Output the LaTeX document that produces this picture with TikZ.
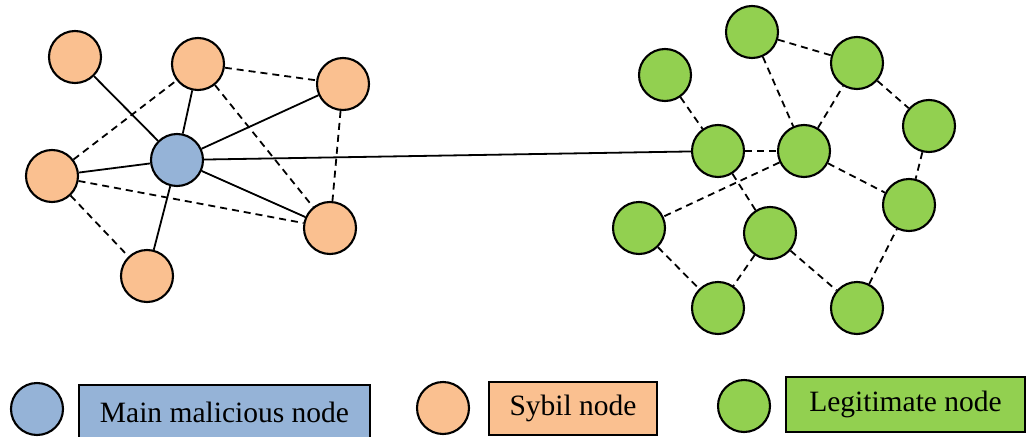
\documentclass[tikz,border=0pt]{standalone}
\usepackage{fontspec}
\setmainfont{Liberation Serif}
\definecolor{malblue}{HTML}{95B3D7}
\definecolor{sybilorange}{HTML}{FAC090}
\definecolor{legitgreen}{HTML}{92D050}
\begin{document}
\begin{tikzpicture}[x=1pt,y=-1pt,
  peer/.style={circle,draw=black,line width=2.1pt,minimum size=52pt,inner sep=0pt},
  mainnode/.style={peer,fill=malblue},
  sybil/.style={peer,fill=sybilorange},
  legit/.style={peer,fill=legitgreen},
  tie/.style={line width=1.8pt},
  weak/.style={line width=1.8pt,dash pattern=on 7pt off 5pt},
  keybox/.style={draw=black,line width=2pt,inner sep=0pt,font=\fontsize{29.5}{34}\selectfont}]
\useasboundingbox (0,0) rectangle (1027,436);
\clip (0,0) rectangle (1027,436);

% attacker cluster
\node[mainnode] (m)  at (177,160) {};
\node[sybil]    (s1) at (75,57)   {};
\node[sybil]    (s2) at (198,64)  {};
\node[sybil]    (s3) at (343,84)  {};
\node[sybil]    (s4) at (52,176)  {};
\node[sybil]    (s5) at (330,228) {};
\node[sybil]    (s6) at (147,276) {};

% honest cluster
\node[legit] (g1)  at (752,32)  {};
\node[legit] (g2)  at (665,75)  {};
\node[legit] (g3)  at (857,63)  {};
\node[legit] (g4)  at (929,126) {};
\node[legit] (g5)  at (718,151) {};
\node[legit] (g6)  at (804,151) {};
\node[legit] (g7)  at (909,205) {};
\node[legit] (g8)  at (639,228) {};
\node[legit] (g9)  at (770,233) {};
\node[legit] (g10) at (718,308) {};
\node[legit] (g11) at (857,308) {};

% links of the malicious node
\foreach \t in {s1,s2,s3,s4,s5,s6,g5}
  \draw[tie] (m) -- (\t);

% links among sybil nodes
\foreach \a/\b in {s4/s2,s2/s3,s2/s5,s3/s5,s4/s5,s4/s6}
  \draw[weak] (\a) -- (\b);

% links among legitimate nodes
\foreach \a/\b in {g1/g3,g1/g6,g2/g5,g5/g6,g6/g3,g3/g4,g4/g7,g6/g7,
                   g6/g8,g5/g9,g8/g10,g9/g10,g9/g11,g11/g7}
  \draw[weak] (\a) -- (\b);

% legend
\node[mainnode] (k1) at (37,409)  {};
\node[keybox,fill=malblue,minimum width=291pt,minimum height=55pt] (t1) at (224.5,412.5) {Main malicious node};
\node[sybil]    (k2) at (443,408) {};
\node[keybox,fill=sybilorange,minimum width=168pt,minimum height=53pt] (t2) at (573,408.5) {Sybil node};
\node[legit]    (k3) at (744,406) {};
\node[keybox,fill=legitgreen,minimum width=239pt,minimum height=55pt] (t3) at (905.5,404.5) {Legitimate node};
\end{tikzpicture}
\end{document}
